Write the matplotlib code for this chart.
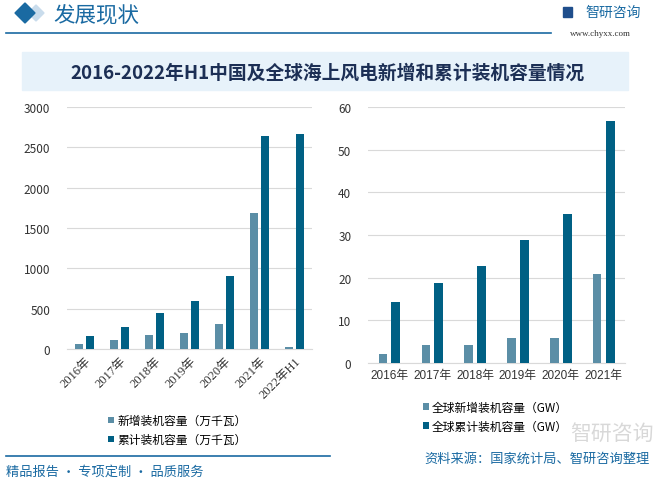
import matplotlib
matplotlib.use('Agg')
import matplotlib.pyplot as plt
import numpy as np
from matplotlib.patches import Rectangle, Polygon
from matplotlib.lines import Line2D

plt.rcParams['font.family'] = ['Noto Sans CJK SC', 'DejaVu Sans']

# data
cn_years = ['2016年', '2017年', '2018年', '2019年', '2020年', '2021年', '2022年H1']
cn_new = [62, 116, 174, 199, 310, 1690, 25]
cn_total = [161, 273, 447, 596, 906, 2645, 2670]

gl_years = ['2016年', '2017年', '2018年', '2019年', '2020年', '2021年']
gl_new = [2.2, 4.3, 4.3, 5.9, 5.9, 20.9]
gl_total = [14.4, 18.8, 22.8, 28.9, 35.0, 56.8]

LIGHT = '#5b8ea6'
DARK = '#006084'
BLUE = '#1a6aa2'
GRID = '#d9d9d9'

W, H = 655, 481
fig = plt.figure(figsize=(6.55, 4.81), dpi=100)

def fx(x):
    return x / W

def fy(y):
    return 1 - y / H

# header
fig.patches.append(Polygon([(fx(15), fy(14)), (fx(25), fy(4)), (fx(35), fy(14)), (fx(25), fy(24))],
                           closed=True, transform=fig.transFigure, color=BLUE, zorder=3))
fig.patches.append(Polygon([(fx(28), fy(14)), (fx(36), fy(6)), (fx(44), fy(14)), (fx(36), fy(22))],
                           closed=True, transform=fig.transFigure, color='#c9dcec', zorder=2))
fig.text(fx(53), fy(15), '发展现状', fontsize=15.5, color=BLUE, va='center', ha='left')
fig.lines.append(Line2D([fx(6), fx(551)], [fy(34), fy(34)], transform=fig.transFigure,
                        color=BLUE, lw=1.2))
fig.patches.append(Rectangle((fx(563), fy(18)), fx(9), 10 / H, transform=fig.transFigure,
                             color='#1f4e8c'))
fig.text(fx(585), fy(13), '智研咨询', fontsize=10, color=BLUE, va='center', ha='left')
fig.text(fx(600), fy(34), 'www.chyxx.com', fontsize=6.5, color='#333333', va='center',
         ha='center', family=['Liberation Serif'])

# title band
fig.patches.append(Rectangle((fx(22), fy(91)), fx(606), 38 / H, transform=fig.transFigure,
                             color='#e7f2fa', zorder=0))
fig.text(fx(327), fy(73), '2016-2022年H1中国及全球海上风电新增和累计装机容量情况', fontsize=13.5,
         color='#1c2f55', fontweight='bold', va='center', ha='center')

# left chart
ax1 = fig.add_axes([fx(67), fy(350), fx(245), 242 / H])
x1 = np.arange(len(cn_years))
ax1.bar(x1 - 0.145, cn_new, width=0.23, color=LIGHT, label='新增装机容量（万千瓦）', zorder=3)
ax1.bar(x1 + 0.145, cn_total, width=0.23, color=DARK, label='累计装机容量（万千瓦）', zorder=3)
ax1.set_xlim(-0.5, len(cn_years) - 0.5)
ax1.set_ylim(0, 3000)
ax1.set_yticks(range(0, 3001, 500))
ax1.set_xticks(x1)
ax1.set_xticklabels(cn_years, rotation=45, ha='right', rotation_mode='anchor',
                    family=['Liberation Serif', 'Noto Sans CJK SC'], fontsize=9, color='#333333')
ax1.legend(loc='upper left', bbox_to_anchor=((103 - 67) / 245, -0.25), frameon=False,
           fontsize=8.5, handlelength=0.5, handleheight=0.5, handletextpad=0.3, labelspacing=0.5,
           borderaxespad=0)

# right chart
ax2 = fig.add_axes([fx(368), fy(364), fx(257), 256 / H])
x2 = np.arange(len(gl_years))
ax2.bar(x2 - 0.15, gl_new, width=0.2, color=LIGHT, label='全球新增装机容量（GW）', zorder=3)
ax2.bar(x2 + 0.15, gl_total, width=0.21, color=DARK, label='全球累计装机容量（GW）', zorder=3)
ax2.set_xlim(-0.5, len(gl_years) - 0.5)
ax2.set_ylim(0, 60)
ax2.set_yticks(range(0, 61, 10))
ax2.set_xticks(x2)
ax2.set_xticklabels(gl_years, fontsize=8.5, color='#333333',
                    family=['Liberation Sans', 'Noto Sans CJK SC'])
ax2.legend(loc='upper left', bbox_to_anchor=((418 - 368) / 257, -0.13), frameon=False,
           fontsize=8.5, handlelength=0.5, handleheight=0.5, handletextpad=0.3, labelspacing=0.5,
           borderaxespad=0)

for ax in (ax1, ax2):
    for s in ('top', 'right', 'left'):
        ax.spines[s].set_visible(False)
    ax.spines['bottom'].set_color(GRID)
    ax.grid(axis='y', color=GRID, lw=0.8, zorder=0)
    ax.tick_params(length=0)
    ax.tick_params(axis='y', labelsize=8.5, labelcolor='#333333', pad=12)
    ax.tick_params(axis='x', pad=4)
    ax.set_facecolor('none')

# watermark
fig.text(fx(612), fy(434), '智研咨询', fontsize=15, color='#bfbfbf', alpha=0.6,
         va='center', ha='center', zorder=0)

# footer
fig.lines.append(Line2D([fx(6), fx(330)], [fy(457), fy(457)], transform=fig.transFigure,
                        color=BLUE, lw=1.2))
fig.text(fx(6), fy(472), '精品报告 · 专项定制 · 品质服务', fontsize=9.5, color=BLUE,
         va='center', ha='left')
fig.text(fx(650), fy(459), '资料来源：国家统计局、智研咨询整理', fontsize=9.5, color=BLUE,
         va='center', ha='right')

fig.savefig('out.png', dpi=100)
